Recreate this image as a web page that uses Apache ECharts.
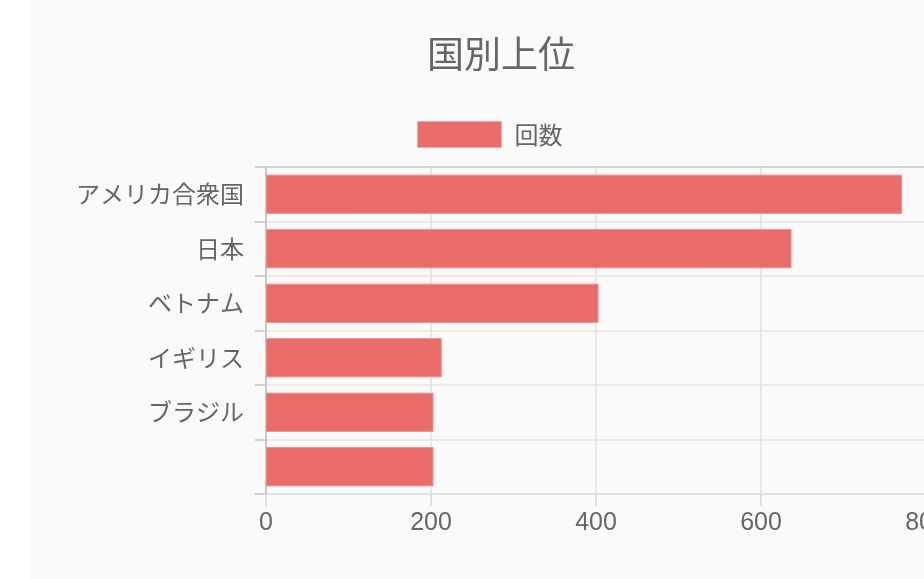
<!DOCTYPE html>
<html>
<head>
<meta charset="utf-8">
<script src="https://cdn.jsdelivr.net/npm/echarts@6/dist/echarts.min.js"></script>
<style>
html, body { margin: 0; padding: 0; background: #ffffff; overflow: hidden; width: 924px; height: 579px; }
#main { position: absolute; left: 31px; top: 0; width: 940px; height: 579px; background: #fafafa; }
</style>
</head>
<body>
<div id="main"></div>
<script>
// データ
var countries = ['アメリカ合衆国', '日本', 'ベトナム', 'イギリス', 'ブラジル', ''];
var counts = [771, 637, 403, 213, 203, 203];
var xTicks = [0, 200, 400, 600, 800];

var font = '"Noto Sans CJK JP", "Liberation Sans", sans-serif';

var chart = echarts.init(document.getElementById('main'), null, { renderer: 'canvas' });

var option = {
  animation: false,
  textStyle: { fontFamily: font },
  title: {
    text: '国別上位',
    left: 'center',
    top: 35,
    padding: 0,
    textStyle: { color: '#666666', fontSize: 37, fontWeight: 'normal', fontFamily: font }
  },
  legend: {
    data: ['回数'],
    icon: 'rect',
    left: 386,
    top: 121,
    padding: 0,
    itemWidth: 84,
    itemHeight: 26,
    itemStyle: { borderColor: '#f2a9a7', borderWidth: 1 },
    textStyle: { color: '#666666', fontSize: 24, padding: [0, 0, 0, 8], fontFamily: font }
  },
  grid: {
    left: 235,
    right: 45,
    top: 167,
    bottom: 85,
    containLabel: false
  },
  xAxis: {
    type: 'value',
    min: xTicks[0],
    max: xTicks[xTicks.length - 1],
    interval: 200,
    axisLine: { show: true, lineStyle: { color: '#dedede', width: 1.5 } },
    axisTick: { show: true, length: 12, lineStyle: { color: '#d6d6d6', width: 1.5 } },
    axisLabel: { color: '#666666', fontSize: 25, margin: 17, fontFamily: '"Liberation Sans", sans-serif' },
    splitLine: { show: true, lineStyle: { color: '#e2e2e2', width: 1.5 } }
  },
  yAxis: {
    type: 'category',
    data: countries,
    inverse: true,
    axisLine: { show: true, lineStyle: { color: '#bdbdbd', width: 1.5 } },
    axisTick: { show: true, length: 11, lineStyle: { color: '#c4c4c4', width: 1.5 } },
    axisLabel: { color: '#666666', fontSize: 24, margin: 22, fontFamily: font },
    splitLine: {
      show: true,
      lineStyle: {
        color: ['#c6c6c6', '#e4e4e4', '#e4e4e4', '#e4e4e4', '#e4e4e4', '#e4e4e4', '#e4e4e4'],
        width: 1.5
      }
    }
  },
  series: [
    {
      name: '回数',
      type: 'bar',
      data: counts,
      barCategoryGap: '28%',
      itemStyle: { color: '#e96c69', borderColor: '#ee8b88', borderWidth: 1 }
    }
  ]
};

chart.setOption(option);
</script>
</body>
</html>
